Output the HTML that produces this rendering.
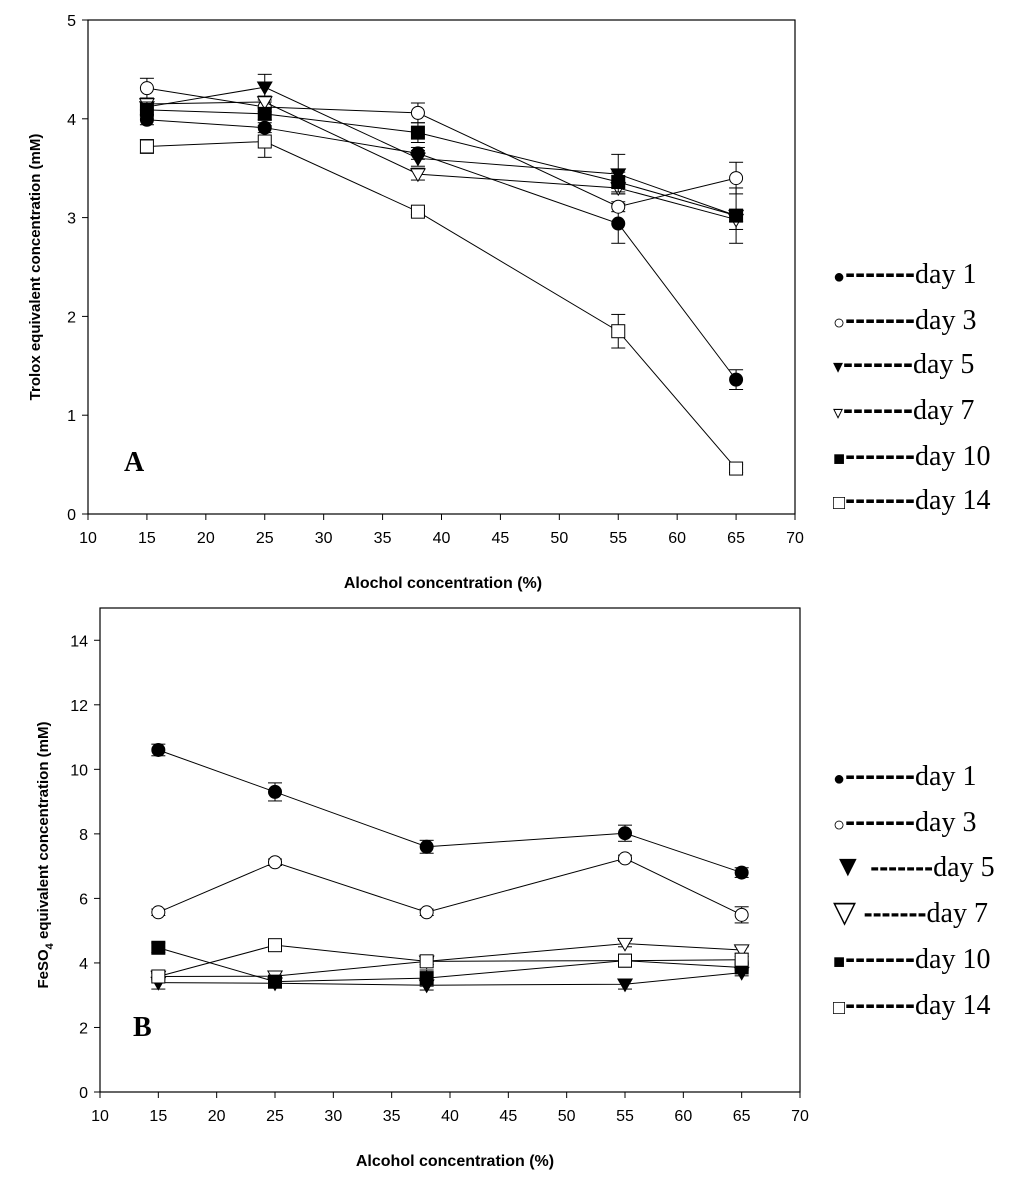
<!DOCTYPE html>
<html><head><meta charset="utf-8"><style>
body{margin:0;background:#fff;}
svg{display:block;font-family:"Liberation Sans",Arial,sans-serif;}
.lg{font-family:"Liberation Serif","DejaVu Serif",serif;font-size:28px;fill:#000;}
</style></head><body>
<svg id="s" width="1024" height="1177" viewBox="0 0 1024 1177" xmlns="http://www.w3.org/2000/svg"></svg>
<script>
const categories=[15,25,38,55,65];
const seriesNames=["day 1","day 3","day 5","day 7","day 10","day 14"];
const markerKinds=["fc","oc","ft","ot","fs","os"];
const xTicks=[10,15,20,25,30,35,40,45,50,55,60,65,70];
const yTicksA=[0,1,2,3,4,5];
const yTicksB=[0,2,4,6,8,10,12,14];
const aDay1=[3.99,3.91,3.65,2.94,1.36];
const aDay3=[4.31,4.12,4.06,3.11,3.40];
const aDay5=[4.12,4.32,3.60,3.44,3.02];
const aDay7=[4.15,4.17,3.44,3.30,2.98];
const aDay10=[4.09,4.05,3.86,3.36,3.02];
const aDay14=[3.72,3.77,3.06,1.85,0.46];
const aErr1=[0.05,0.05,0.06,0.2,0.1];
const aErr3=[0.1,0.05,0.1,0.05,0.16];
const aErr5=[0.08,0.13,0.08,0.2,0.28];
const aErr7=[0.06,0.06,0.06,0.06,0.1];
const aErr10=[0.08,0.06,0.1,0.1,0.06];
const aErr14=[0.07,0.16,0.03,0.17,0.04];
const bDay1=[10.6,9.30,7.60,8.02,6.80];
const bDay3=[5.57,7.12,5.57,7.24,5.49];
const bDay5=[3.39,3.37,3.31,3.34,3.70];
const bDay7=[3.58,3.59,4.05,4.60,4.40];
const bDay10=[4.47,3.42,3.53,4.07,3.86];
const bDay14=[3.58,4.55,4.05,4.07,4.10];
const bErr1=[0.18,0.28,0.2,0.25,0.15];
const bErr3=[0.1,0.1,0.1,0.1,0.25];
const bErr5=[0.2,0.15,0.15,0.15,0.1];
const bErr7=[0.1,0.15,0.1,0.1,0.1];
const bErr10=[0.15,0.15,0.25,0.15,0.1];
const bErr14=[0.1,0.1,0.1,0.1,0.1];

const NS="http://www.w3.org/2000/svg";
const svg=document.getElementById('s');
function mk(tag,attrs,parent){const e=document.createElementNS(NS,tag);for(const k in attrs)e.setAttribute(k,attrs[k]);(parent||svg).appendChild(e);return e;}

function marker(g,kind,x,y,r){
  const fill=kind[0]==='f'?'#000':'#fff';let e;
  if(kind[1]==='c')e=mk('circle',{cx:x,cy:y,r:r,fill:fill,stroke:'#000','stroke-width':1},g);
  else if(kind[1]==='s')e=mk('rect',{x:x-r,y:y-r,width:2*r,height:2*r,fill:fill,stroke:'#000','stroke-width':1},g);
  else e=mk('polygon',{points:`${x-r*1.1},${y-r*0.8} ${x+r*1.1},${y-r*0.8} ${x},${y+r*1.1}`,fill:fill,stroke:'#000','stroke-width':1},g);
  
  
}

function chart(o){
  const X=v=>o.x0+(v-10)/60*(o.x1-o.x0);
  const Y=v=>o.yb-(v-0)/o.ymax*(o.yb-o.yt);
  const g=mk('g',{});
  
  
  const box=mk('rect',{x:o.x0,y:o.yt,width:o.x1-o.x0,height:o.yb-o.yt,fill:'none',stroke:'#000','stroke-width':1.2},g);
  
  
  xTicks.forEach(t=>{
    mk('line',{x1:X(t),x2:X(t),y1:o.yb,y2:o.yb+6,stroke:'#000'},g);
    const tx=mk('text',{x:X(t),y:o.yb+29,'text-anchor':'middle','font-size':16},g);tx.textContent=t;
    
    
  });
  o.yTicks.forEach(t=>{
    mk('line',{x1:o.x0-6,x2:o.x0,y1:Y(t),y2:Y(t),stroke:'#000'},g);
    const tx=mk('text',{x:o.x0-12,y:Y(t)+6,'text-anchor':'end','font-size':16},g);tx.textContent=t;
    
    
  });
  o.series.forEach((s,i)=>{
    const sg=mk('g',{},g);
    
    
    mk('polyline',{points:s.map((v,j)=>X(categories[j])+','+Y(v)).join(' '),fill:'none',stroke:'#000','stroke-width':1},sg);
    s.forEach((v,j)=>{
      const e=o.errs[i][j],x=X(categories[j]);
      mk('line',{x1:x,x2:x,y1:Y(v-e),y2:Y(v+e),stroke:'#000'},sg);
      mk('line',{x1:x-7,x2:x+7,y1:Y(v-e),y2:Y(v-e),stroke:'#000'},sg);
      mk('line',{x1:x-7,x2:x+7,y1:Y(v+e),y2:Y(v+e),stroke:'#000'},sg);
    });
    s.forEach((v,j)=>marker(sg,markerKinds[i],X(categories[j]),Y(v),6.5));
  });
  const L=mk('text',{x:o.lx,y:o.ly,'font-size':28,'font-weight':'bold','font-family':'Liberation Serif,serif'},g);L.textContent=o.letter;
  
  
  const xt=mk('text',{x:o.xtx,y:o.xty,'text-anchor':'middle','font-size':16,'font-weight':'bold'},g);xt.textContent=o.xtitle;
  
  
  const yt=mk('text',{x:0,y:0,'text-anchor':'middle','font-size':15,'font-weight':'bold',transform:`translate(${o.ytx},${o.yty}) rotate(-90)`},g);
  
  
  if(o.sub){yt.innerHTML='FeSO<tspan font-size="11" dy="5">4</tspan><tspan dy="-5">  equivalent concentration (mM)</tspan>';}
  else yt.textContent=o.ytitle;
  const lg=mk('g',{},g);
  
  
  seriesNames.forEach((n,i)=>{
    const yy=o.legY[i];
    const big=o.bigTri&&(i===2||i===3);
    const glyph=['●','○',big?'▼':'▾',big?'▽':'▿','■','□'][i];
    const t=mk('text',{x:o.legX,y:yy,class:'lg'},lg);
    t.innerHTML=`<tspan font-size="${big?30:20}">${glyph}</tspan><tspan font-weight="bold" font-family="Liberation Sans,sans-serif" font-size="${big?27:30}">${big?' ':''}-------</tspan>${n}`;
    
    
  });
}
chart({name:'chart-a',x0:88,x1:795,yt:20,yb:514,ymax:5,yTicks:yTicksA,series:[aDay1,aDay3,aDay5,aDay7,aDay10,aDay14],errs:[aErr1,aErr3,aErr5,aErr7,aErr10,aErr14],letter:'A',lx:124,ly:471,xtitle:'Alochol concentration (%)',xtx:443,xty:588,ytitle:'Trolox equivalent concentration (mM)',ytx:40,yty:267,legX:833,legY:[283,329,373,419,465,509],bigTri:false});
chart({name:'chart-b',x0:100,x1:800,yt:608,yb:1092,ymax:15,yTicks:yTicksB,series:[bDay1,bDay3,bDay5,bDay7,bDay10,bDay14],errs:[bErr1,bErr3,bErr5,bErr7,bErr10,bErr14],letter:'B',lx:133,ly:1036,xtitle:'Alcohol concentration (%)',xtx:455,xty:1166,sub:true,ytx:48,yty:855,legX:833,legY:[785,831,876,922,968,1014],bigTri:true});
</script>
</body></html>
